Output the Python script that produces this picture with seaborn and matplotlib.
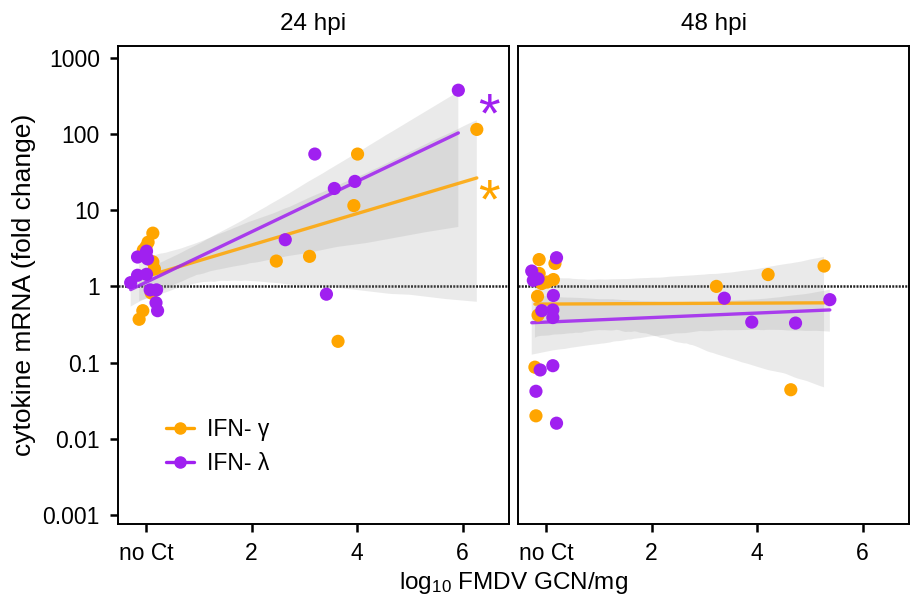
import numpy as np
import pandas as pd
import matplotlib
matplotlib.use('Agg')
import matplotlib.pyplot as plt
from matplotlib.lines import Line2D
import seaborn as sns

# --- Data (x = log10 GCN/mg, jittered; "no Ct" ~ 0) ---
# 24 hpi
x24_gamma = [0.13, 0.04, 0.00, -0.05, 0.13, 0.16, 0.10, -0.06, -0.13,
             2.47, 3.10, 3.64, 3.94, 4.01, 6.27]
y24_gamma = [5.0, 3.8, 3.3, 3.0, 2.1, 1.7, 0.82, 0.48, 0.37,
             2.15, 2.48, 0.19, 11.5, 54.6, 115]
x24_lambda = [-0.16, 0.01, 0.03, -0.16, 0.01, -0.29, 0.08, 0.20, 0.19, 0.22,
              2.64, 3.20, 3.42, 3.57, 3.96, 5.92]
y24_lambda = [2.43, 2.9, 2.3, 1.4, 1.44, 1.12, 0.9, 0.9, 0.61, 0.48,
              4.1, 54.6, 0.79, 19.3, 23.9, 376]

# 48 hpi
x48_gamma = [-0.13, 0.17, -0.13, 0.02, 0.14, -0.08, -0.16, -0.15, -0.21, -0.19,
             3.23, 4.21, 4.64, 5.27]
y48_gamma = [2.25, 2.0, 1.48, 1.14, 1.23, 1.09, 0.74, 0.42, 0.087, 0.02,
             1.0, 1.43, 0.044, 1.85]
x48_lambda = [0.20, -0.27, -0.24, -0.15, 0.14, -0.08, 0.13, 0.13, -0.11, 0.13, -0.19, 0.20,
              3.38, 3.90, 4.73, 5.38]
y48_lambda = [2.38, 1.59, 1.2, 1.26, 0.76, 0.48, 0.49, 0.39, 0.08, 0.091, 0.042, 0.016,
              0.70, 0.34, 0.33, 0.67]

panels = ['24 hpi', '48 hpi']
cytokines = ['IFN- γ', 'IFN- λ']
palette = {'IFN- γ': '#FFA500', 'IFN- λ': '#A020F0'}

y_ticks = [0.001, 0.01, 0.1, 1, 10, 100, 1000]
y_ticklabels = ['0.001', '0.01', '0.1', '1', '10', '100', '1000']
x_ticks = [0, 2, 4, 6]
x_ticklabels = ['no Ct', '2', '4', '6']

series = {
    ('24 hpi', 'IFN- γ'): (x24_gamma, y24_gamma),
    ('24 hpi', 'IFN- λ'): (x24_lambda, y24_lambda),
    ('48 hpi', 'IFN- γ'): (x48_gamma, y48_gamma),
    ('48 hpi', 'IFN- λ'): (x48_lambda, y48_lambda),
}

frames = []
for (p, c), (xs, ys) in series.items():
    frames.append(pd.DataFrame({'panel': p, 'cytokine': c, 'gcn': xs,
                                'log_fc': np.log10(ys)}))
df = pd.concat(frames, ignore_index=True)

# --- Style ---
sns.set_theme(style='ticks')
plt.rcParams['font.family'] = ['Liberation Sans', 'DejaVu Sans']
plt.rcParams['mathtext.default'] = 'regular'
plt.rcParams['text.color'] = 'black'
plt.rcParams['axes.labelcolor'] = 'black'

fig = plt.figure(figsize=(9.12, 6.01), dpi=100)
axes = [fig.add_axes([0.1294, 0.128, 0.4287, 0.796]),
        fig.add_axes([0.568, 0.128, 0.4287, 0.796])]

for ax, p in zip(axes, panels):
    sub = df[df['panel'] == p]
    ax.axhline(0, color='#222222', ls=(0, (0.8, 0.5)), lw=1.8, zorder=1)
    for c in cytokines:
        d = sub[sub['cytokine'] == c]
        sns.regplot(data=d, x='gcn', y='log_fc', ax=ax, scatter=False, ci=95,
                    color=palette[c], truncate=True,
                    line_kws={'lw': 2.4, 'alpha': 0.85, 'zorder': 3})
        # grey confidence band like ggplot
        band = ax.collections[-1]
        band.set_facecolor('#999999')
        band.set_alpha(0.2)
        band.set_edgecolor('none')
        band.set_zorder(2)
    sns.scatterplot(data=sub, x='gcn', y='log_fc', hue='cytokine', palette=palette,
                    hue_order=cytokines, s=90, linewidth=0,
                    ax=ax, legend=False, zorder=4)

    ax.set_xlim(-0.53, 6.88)
    ax.set_ylim(-3.12, 3.16)
    ax.set_xticks(x_ticks)
    ax.set_xticklabels(x_ticklabels)
    ax.set_yticks(np.log10(y_ticks))
    ax.set_xlabel('')
    ax.set_ylabel('')
    ax.set_title(p, fontsize=17.5, pad=11, color='black')
    for s in ax.spines.values():
        s.set_visible(True)
        s.set_linewidth(1.4)
        s.set_color('black')
    ax.tick_params(axis='both', length=6, width=1.8, labelsize=16.5, colors='black',
                   pad=7)

axes[0].set_yticklabels(y_ticklabels)
axes[1].set_yticklabels([])
axes[1].tick_params(axis='y', length=0)

axes[0].set_ylabel('cytokine mRNA (fold change)', fontsize=19, labelpad=5)
fig.text(0.563, 0.02, 'log$_{10}$ FMDV GCN/mg', ha='center', fontsize=17.5)

# significance asterisks
axes[0].text(6.5, 2.03, '*', color=palette['IFN- λ'], fontsize=40,
             ha='center', va='baseline')
axes[0].text(6.5, 0.91, '*', color=palette['IFN- γ'], fontsize=40,
             ha='center', va='baseline')

handles = [Line2D([0], [0], color=palette[c], lw=2.4, marker='o', markersize=8)
           for c in cytokines]
axes[0].legend(handles, cytokines, loc='lower left', bbox_to_anchor=(0.07, 0.06),
               frameon=False, fontsize=16.5, handlelength=1.2, labelspacing=0.45,
               handletextpad=0.6)

fig.savefig('out.png', dpi=100)
